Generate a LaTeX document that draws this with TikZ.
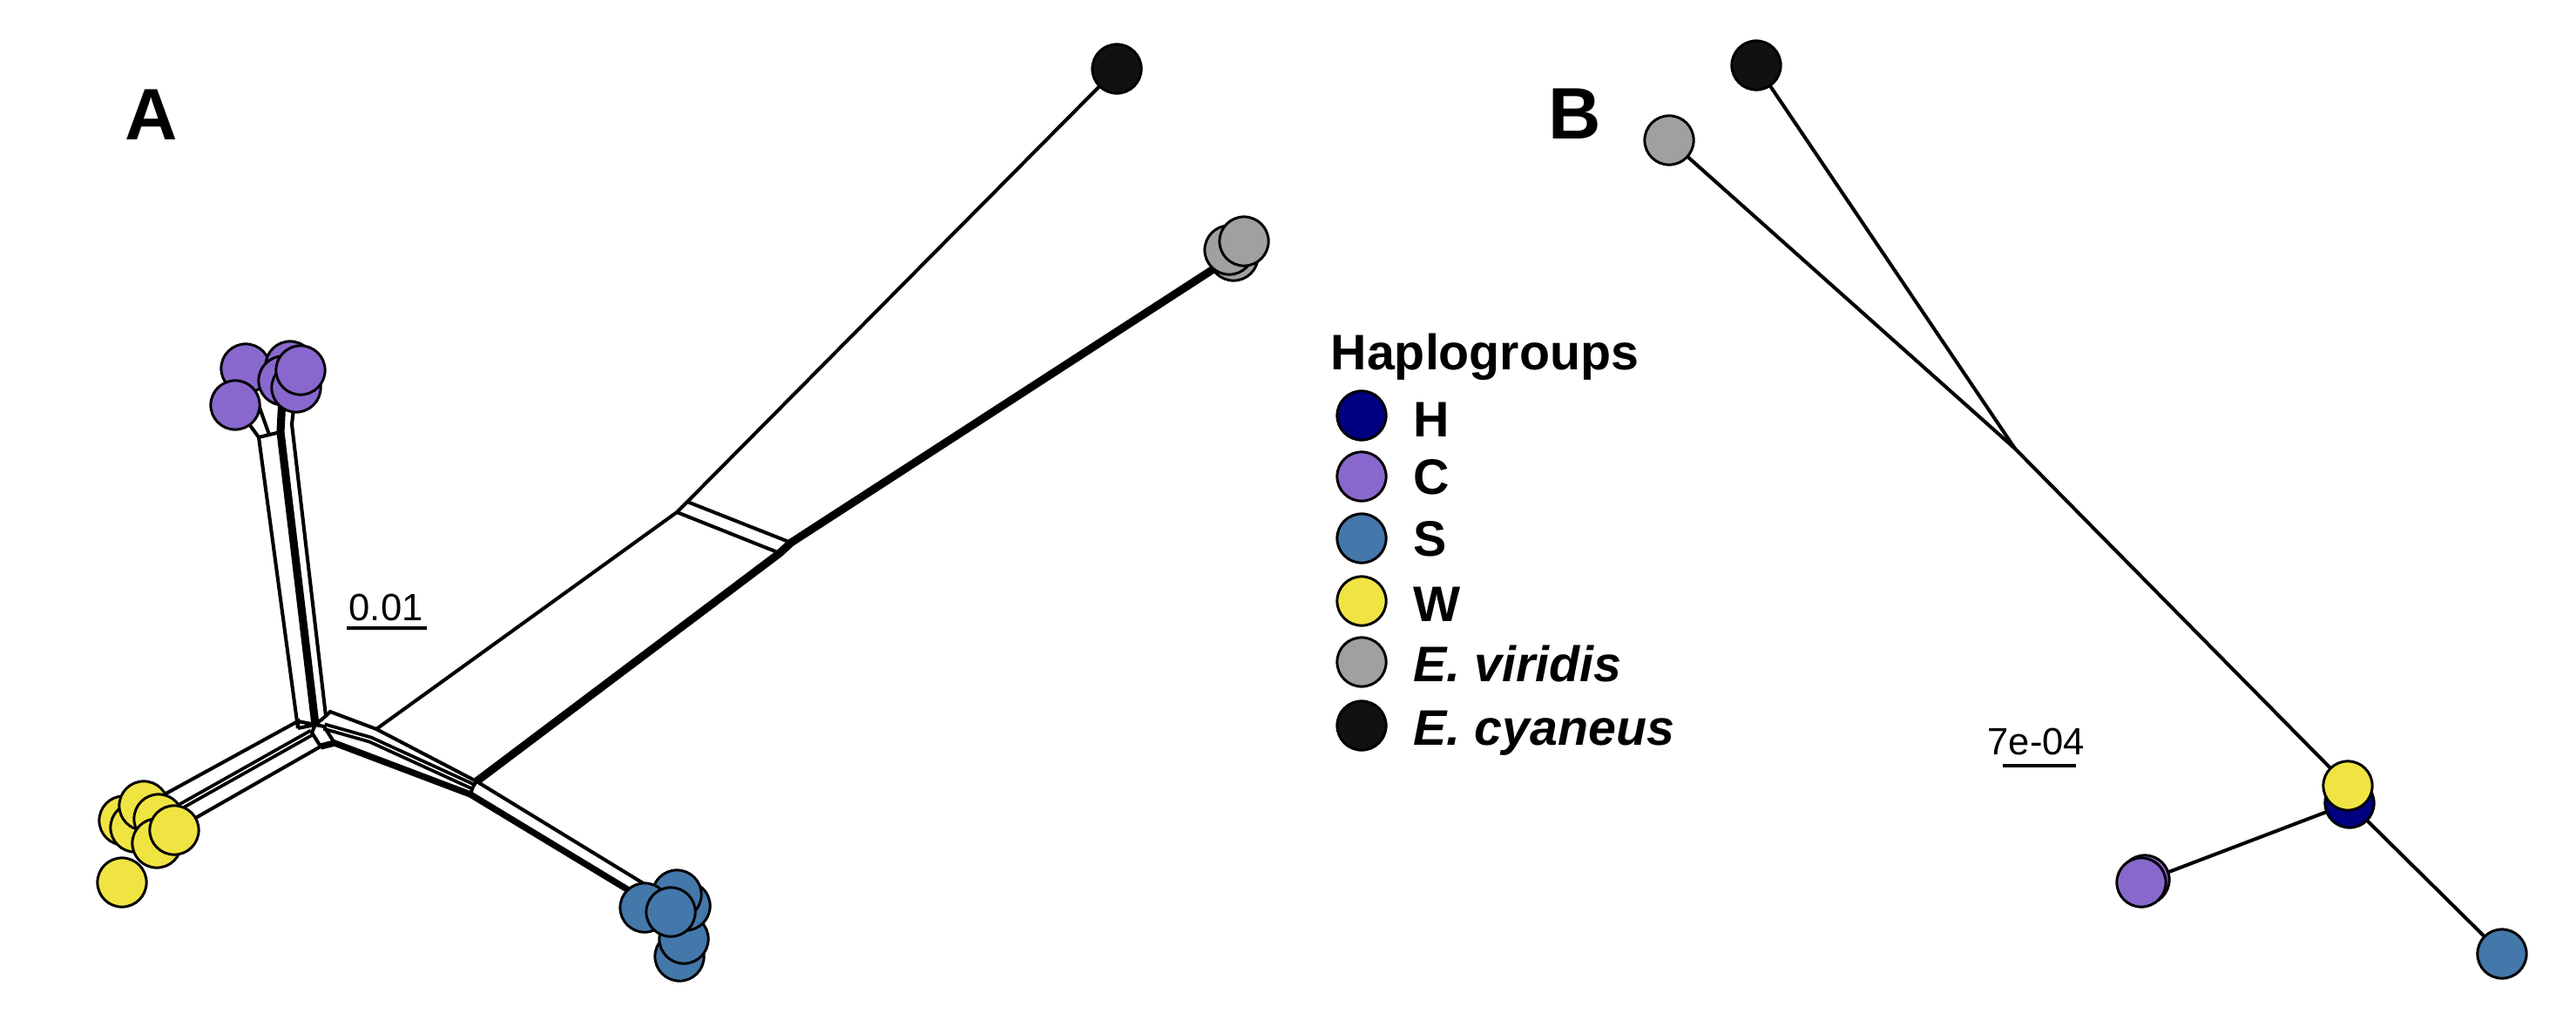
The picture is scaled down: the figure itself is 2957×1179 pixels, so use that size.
\documentclass[tikz,border=0pt]{standalone}
\usepackage{fontspec}
\setmainfont{Liberation Sans}
\usetikzlibrary{backgrounds}
\definecolor{hH}{HTML}{000080}
\definecolor{hC}{HTML}{8968CD}
\definecolor{hS}{HTML}{4477AA}
\definecolor{hW}{HTML}{F0E442}
\definecolor{hV}{HTML}{A0A0A0}
\definecolor{hK}{HTML}{111111}
\begin{document}
\begin{tikzpicture}[x=0.01cm,y=-0.01cm,
  hap/.style={circle,draw=black,line width=0.85pt,minimum size=16pt,inner sep=0pt},
  thinl/.style={line width=1.15pt},
  thickl/.style={line width=2.6pt},
  dbl/.style={double=white,double distance=0.4pt,line width=1.1pt},
  lab/.style={font=\fontsize{16.3pt}{19pt}\selectfont\bfseries,anchor=base west,inner sep=0pt},
  panel/.style={font=\fontsize{23.8pt}{26pt}\selectfont\bfseries,anchor=base west,inner sep=0pt},
  scl/.style={font=\fontsize{12.4pt}{14pt}\selectfont,anchor=base west,inner sep=0pt}]
\useasboundingbox (0,0) rectangle (2957,1179);

% ---------- labels ----------
\node[panel] (labA) at (143,161) {A};
\node[panel] (labB) at (1777,160) {B};
\node[scl] (sclA) at (400,712) {0.01};
\coordinate (sa1) at (398,721); \coordinate (sa2) at (490,721);
\node[scl] (sclB) at (2281,866) {7e-04};
\coordinate (sb1) at (2299,879); \coordinate (sb2) at (2383,879);
\draw[line width=1.15pt] (sa1) -- (sa2);
\draw[line width=1.15pt] (sb1) -- (sb2);

% ---------- legend ----------
\node[lab] (legT) at (1527,424) {Haplogroups};
\node[hap,fill=hH] (lH) at (1563,477) {};
\node[hap,fill=hC] (lC) at (1563,547) {};
\node[hap,fill=hS] (lS) at (1563,618) {};
\node[hap,fill=hW] (lW) at (1563,690) {};
\node[hap,fill=hV] (lV) at (1563,760) {};
\node[hap,fill=hK] (lK) at (1563,833) {};
\node[lab] (tH) at (1622,501) {H};
\node[lab] (tC) at (1622,567) {C};
\node[lab] (tS) at (1622,638) {S};
\node[lab] (tW) at (1622,713) {W};
\node[lab] (tV) at (1622,782) {\itshape E. viridis};
\node[lab] (tK) at (1622,855) {\itshape E. cyaneus};

% ---------- panel B ----------
\node[hap,fill=hK] (bK) at (2016,75) {};
\node[hap,fill=hV] (bV) at (1916,161) {};
\coordinate (bJ) at (2313,515);
\node[hap,fill=hH] (bH) at (2697,922) {};
\node[hap,fill=hW] (bW) at (2695,902) {};
\node[hap,fill=hC] (bC1) at (2462,1010) {};
\node[hap,fill=hC] (bC2) at (2458,1013) {};
\node[hap,fill=hS] (bS) at (2872,1095) {};

% ---------- panel A nodes ----------
\node[hap,fill=hK] (aK) at (1282,79) {};
\node[hap,fill=hV] (aV1) at (1416,294) {};
\node[hap,fill=hV] (aV2) at (1411,287) {};
\node[hap,fill=hV] (aV3) at (1428,277) {};
\node[hap,fill=hC] (aC1) at (282,423) {};
\node[hap,fill=hC] (aC2) at (270,465) {};
\node[hap,fill=hC] (aC3) at (333,420) {};
\node[hap,fill=hC] (aC4) at (325,437) {};
\node[hap,fill=hC] (aC5) at (340,445) {};
\node[hap,fill=hC] (aC6) at (345,425) {};
\node[hap,fill=hW] (aW7) at (140,1013) {};
\node[hap,fill=hW] (aW1) at (142,942) {};
\node[hap,fill=hW] (aW2) at (155,950) {};
\node[hap,fill=hW] (aW3) at (165,925) {};
\node[hap,fill=hW] (aW4) at (182,940) {};
\node[hap,fill=hW] (aW5) at (180,968) {};
\node[hap,fill=hW] (aW6) at (200,953) {};
\node[hap,fill=hS] (aS1) at (780,1098) {};
\node[hap,fill=hS] (aS2) at (785,1078) {};
\node[hap,fill=hS] (aS3) at (787,1040) {};
\node[hap,fill=hS] (aS4) at (777,1027) {};
\node[hap,fill=hS] (aS5) at (740,1042) {};
\node[hap,fill=hS] (aS6) at (770,1047) {};

% ---------- network coordinates ----------
\coordinate (bk0) at (432,837);
\coordinate (bk1) at (777,588);
\coordinate (bk2) at (789,576);
\coordinate (gr0) at (547,897);
\coordinate (gr1) at (895,635);
\coordinate (gr2) at (908,623);
\coordinate (pa1) at (297,502);
\coordinate (pa2) at (342,836);
\coordinate (pb1) at (309,499);
\coordinate (pc1) at (322,496);
\coordinate (pc2) at (362,832);
\coordinate (pd1) at (335,487);
\coordinate (pd2) at (374,822);
\coordinate (w1e) at (342,828);
\coordinate (w2e) at (358,841);
\coordinate (w3e) at (368,857);
\coordinate (s1a) at (379,817);
\coordinate (s2a) at (372,834);
\coordinate (s2b) at (425,849);
\coordinate (s2c) at (543,903);
\coordinate (s3a) at (384,853);
\coordinate (s3b) at (540,912);
\coordinate (e1) at (740,1015);
\coordinate (e2) at (735,1030);

\begin{pgfonlayer}{background}
\fill[white] (0,0) rectangle (2957,1179);
% panel B edges
\draw[thinl] (bV.center) -- (bJ) -- (bW.center);
\draw[thinl] (bK.center) -- (bJ);
\draw[thinl] (bW.center) -- (bH.center) -- (bS.center);
\draw[thinl] (bH.center) -- (bC2.center);
% panel A: outgroup branches
\draw[thinl] (bk0) -- (bk1) -- (bk2) -- (aK.center);
\draw[thinl] (bk1) -- (gr1);
\draw[thinl] (bk2) -- (gr2);
\draw[thickl] (gr0) -- (gr1) -- (gr2) -- (aV1.center);
% S band
\draw[thinl] (pd2) -- (s1a) -- (bk0) -- (gr0) -- (e1);
\draw[dbl] (s2a) -- (s2b) -- (s2c);
\draw[line width=2.1pt] (w3e) -- (s3a) -- (s3b) -- (e2);
\draw[thinl] (s2c) -- (gr0);
\draw[thinl] (s2c) -- (s3b);
% purple bundle
\draw[thinl] (aC2.center) -- (pa1) -- (pa2);
\draw[thinl] (aC1.center) -- (pb1);
\draw[thickl] (aC4.center) -- (pc1) -- (pc2);
\draw[thinl] (aC5.center) -- (pd1) -- (pd2);
\draw[thinl] (pa1) -- (pc1);
% W band
\draw[thinl] (aW3.center) -- (w1e) -- (pa2);
\draw[dbl] (aW4.center) -- (w2e);
\draw[thinl] (aW6.center) -- (w3e);
% hub
\draw[thinl] (pa2) -- (pc2) -- (pd2);
\draw[thinl] (w1e) -- (pc2);
\draw[thinl] (pc2) -- (w2e) -- (w3e);
\draw[thinl] (pc2) -- (s2a) -- (s3a);
\end{pgfonlayer}
\end{tikzpicture}
\end{document}
